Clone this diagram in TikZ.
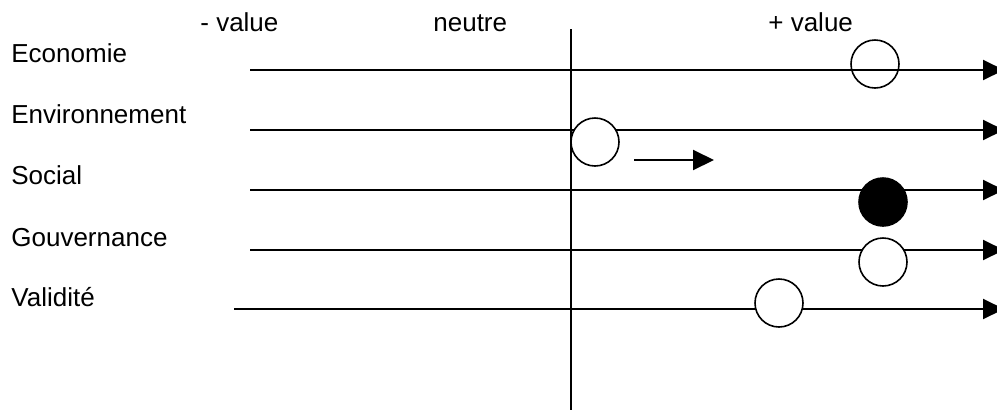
\documentclass[tikz,border=0pt]{standalone}
\usepackage{fontspec}
\setmainfont{Liberation Sans}
\usetikzlibrary{arrows.meta}
\begin{document}
\begin{tikzpicture}[x=0.5pt, y=-0.5pt,
			label_style/.style={anchor=base west,inner sep=0pt,font=\fontsize{13}{15}\selectfont},
			axis_style/.style={draw=black,line width=1pt,-{Triangle[length=10.5pt,width=10pt]}},
			mark_style/.style={circle,draw=black,line width=0.8pt,fill=white,minimum size=24pt,inner sep=0pt}]
			\clip (0,0) rectangle (997,409);
			\node[label_style] (minus) at (200,31) {- value};
			\node[label_style] (neutre) at (433,31) {neutre};
			\node[label_style] (plus) at (768,31) {+ value};
			\node[label_style] (eco) at (11,62) {Economie};
			\node[label_style] (env) at (11,123) {Environnement};
			\node[label_style] (soc) at (11,184) {Social};
			\node[label_style] (gouv) at (11,246) {Gouvernance};
			\node[label_style] (val) at (11,306) {Validité};
			\coordinate (v_top) at (571,29);
			\coordinate (v_bot) at (571,410);
			\coordinate (eco_s) at (250,70);
			\coordinate (eco_e) at (1004,70);
			\coordinate (env_s) at (250,130);
			\coordinate (env_e) at (1004,130);
			\coordinate (soc_s) at (250,190);
			\coordinate (soc_e) at (1004,190);
			\coordinate (gouv_s) at (250,250);
			\coordinate (gouv_e) at (1004,250);
			\coordinate (val_s) at (234,309);
			\coordinate (val_e) at (1004,309);
			\coordinate (move_s) at (634,160);
			\coordinate (move_e) at (714,160);
			\draw[line width=1pt]  (v_top) -- (v_bot);
			\draw[axis_style]  (eco_s) -- (eco_e);
			\draw[axis_style]  (env_s) -- (env_e);
			\draw[axis_style]  (soc_s) -- (soc_e);
			\draw[axis_style]  (gouv_s) -- (gouv_e);
			\draw[axis_style]  (val_s) -- (val_e);
			\draw[axis_style]  (move_s) -- (move_e);
			\node[mark_style,fill=none] (eco_m) at (875,64) {};
			\node[mark_style] (env_m) at (595,142) {};
			\node[mark_style,fill=black] (soc_m) at (883,202) {};
			\node[mark_style] (gouv_m) at (883,262) {};
			\node[mark_style] (val_m) at (779,303) {};
			\end{tikzpicture}
\end{document}
